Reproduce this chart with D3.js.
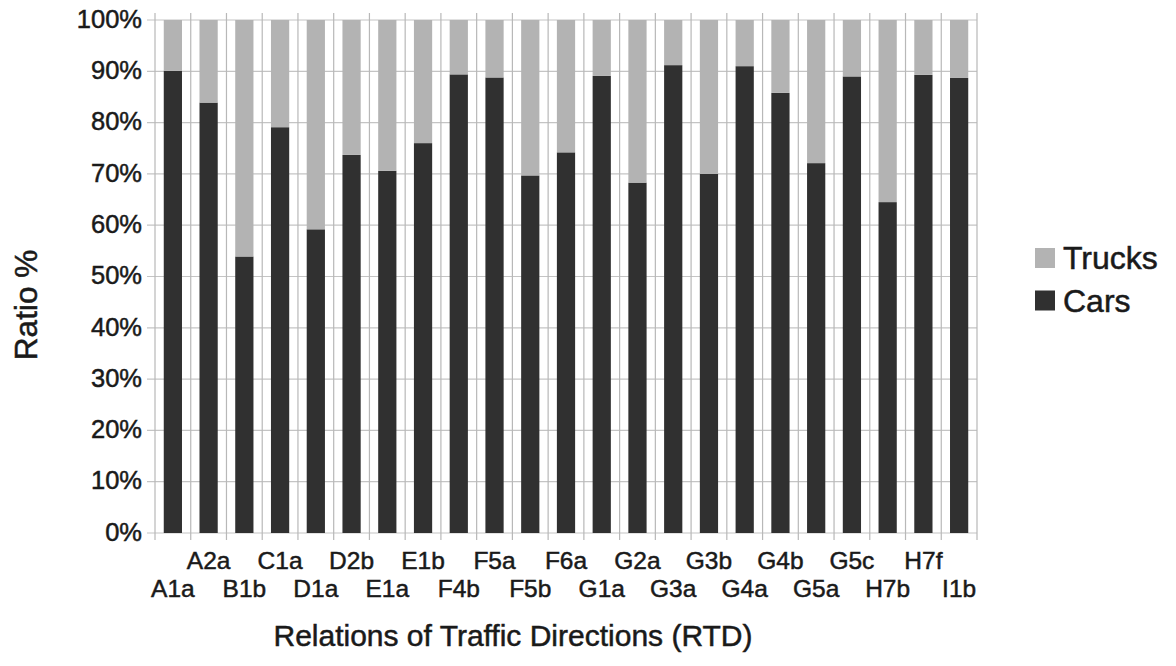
<!DOCTYPE html>
<html>
<head>
<meta charset="utf-8">
<script src="https://cdn.jsdelivr.net/npm/d3@7"></script>
<style>
  html, body { margin: 0; padding: 0; background: #ffffff; }
  svg { display: block; font-family: "Liberation Sans", Arial, Helvetica, sans-serif; }
  text { stroke: #1a1a1a; stroke-width: 0.5px; }
</style>
</head>
<body>
<svg id="chart" width="1176" height="666"></svg>
<script>
const categories = ["A1a","A2a","B1b","C1a","D1a","D2b","E1a","E1b","F4b","F5a","F5b","F6a","G1a","G2a","G3a","G3b","G4a","G4b","G5a","G5c","H7b","H7f","I1b"];
const cars   = [90.1, 83.9, 53.9, 79.1, 59.2, 73.7, 70.6, 76.0, 89.4, 88.8, 69.7, 74.2, 89.1, 68.3, 91.2, 70.0, 91.0, 85.8, 72.1, 89.0, 64.5, 89.3, 88.7];
const trucks = [9.9, 16.1, 46.1, 20.9, 40.8, 26.3, 29.4, 24.0, 10.6, 11.2, 30.3, 25.8, 10.9, 31.7, 8.8, 30.0, 9.0, 14.2, 27.9, 11.0, 35.5, 10.7, 11.3];
const yTicks = [0, 10, 20, 30, 40, 50, 60, 70, 80, 90, 100];
const seriesNames = ["Cars", "Trucks"];
const colors = { Cars: "#303030", Trucks: "#b3b3b3" };

(function () {
const svg = d3.select("#chart");
const mLeft = 155, mRight = 977, mTop = 20, mBottom = 533;

const x = d3.scaleBand().domain(categories).range([mLeft, mRight]).padding(0);
const y = d3.scaleLinear().domain([0, 100]).range([mBottom, mTop]);

const grid = svg.append("g");
grid.selectAll("line.h").data(yTicks).join("line")
  .attr("x1", mLeft - 8).attr("x2", mRight)
  .attr("y1", d => y(d)).attr("y2", d => y(d))
  .attr("stroke", "#c4c4c4").attr("stroke-width", 1.2);
const vBounds = categories.map(c => x(c)).concat([mRight]);
grid.selectAll("line.v").data(vBounds).join("line")
  .attr("x1", d => d).attr("x2", d => d)
  .attr("y1", mTop - 7).attr("y2", mBottom + 7)
  .attr("stroke", "#b8b8b8").attr("stroke-width", 1.2);

const rows = categories.map((c, i) => ({ cat: c, Cars: cars[i], Trucks: trucks[i] }));
const stack = d3.stack().keys(seriesNames)(rows);
const bw = x.bandwidth() * 0.51;
svg.append("g").selectAll("g").data(stack).join("g")
  .attr("fill", d => colors[d.key])
  .selectAll("rect").data(d => d).join("rect")
  .attr("x", d => x(d.data.cat) + (x.bandwidth() - bw) / 2)
  .attr("width", bw)
  .attr("y", d => y(Math.min(100, d[1])))
  .attr("height", d => y(d[0]) - y(Math.min(100, d[1])));

svg.append("g").selectAll("text").data(yTicks).join("text")
  .attr("x", 142).attr("y", d => y(d) + 1)
  .attr("text-anchor", "end").attr("dominant-baseline", "middle")
  .attr("font-size", 25.5).attr("fill", "#1a1a1a")
  .text(d => d + "%");

svg.append("g").selectAll("text").data(categories).join("text")
  .attr("x", d => x(d) + x.bandwidth() / 2)
  .attr("y", (d, i) => i % 2 === 0 ? 597 : 569)
  .attr("text-anchor", "middle")
  .attr("font-size", 24.5).attr("fill", "#1a1a1a")
  .text(d => d);

svg.append("text")
  .attr("x", 513).attr("y", 646)
  .attr("text-anchor", "middle").attr("font-size", 30).attr("fill", "#1a1a1a")
  .text("Relations of Traffic Directions (RTD)");
svg.append("text")
  .attr("transform", "translate(37,305) rotate(-90)")
  .attr("text-anchor", "middle").attr("font-size", 31.5).attr("fill", "#1a1a1a")
  .text("Ratio %");

const legendItems = ["Trucks", "Cars"];
const lg = svg.append("g").selectAll("g").data(legendItems).join("g")
  .attr("transform", (d, i) => `translate(1035,${248 + i * 42.5})`);
lg.append("rect").attr("width", 20).attr("height", 20).attr("fill", d => colors[d]);
lg.append("text").attr("x", 28).attr("y", 21)
  .attr("font-size", 32).attr("fill", "#1a1a1a").text(d => d);
})();
</script>
</body>
</html>
